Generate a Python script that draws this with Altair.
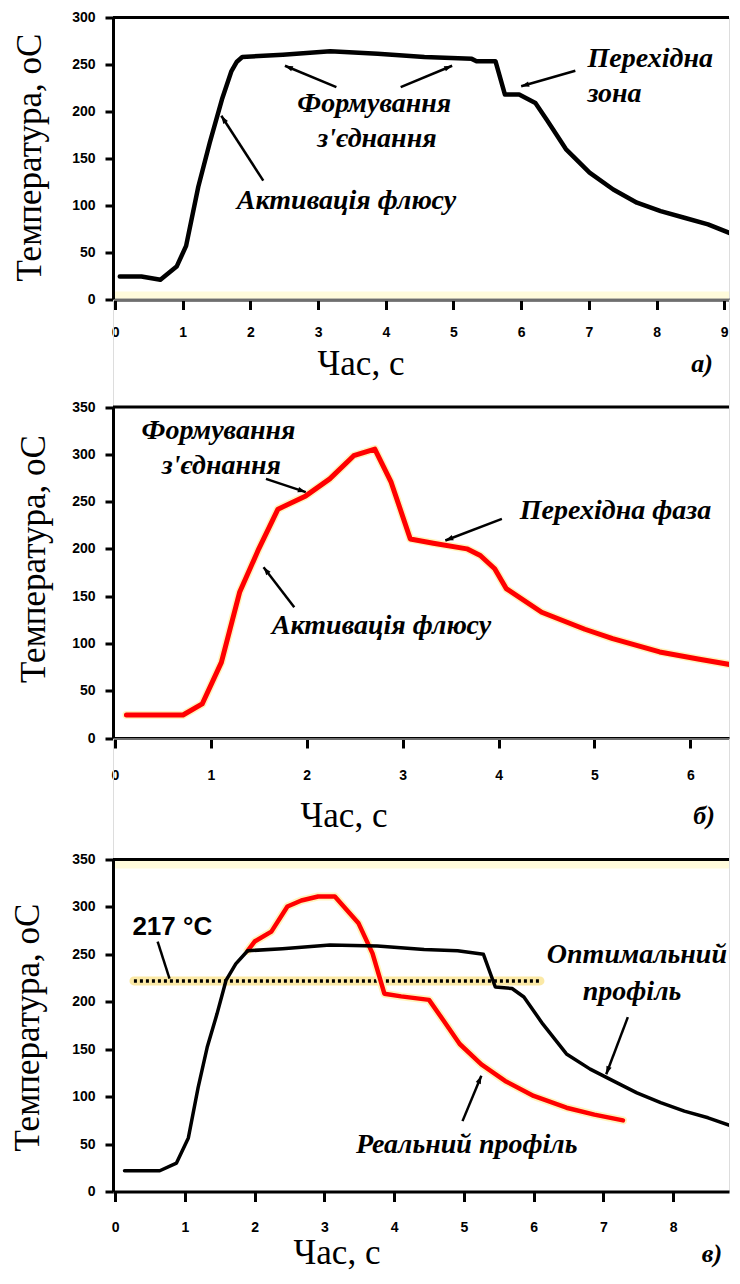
import math
import altair as alt
import pandas as pd

# ---------------- data ----------------
# panel a) optimal profile
a_time = [0.07, 0.39, 0.67, 0.91, 1.05, 1.23, 1.40, 1.58, 1.72, 1.80, 1.88, 2.48, 3.18, 3.88, 4.57, 5.27,
          5.34, 5.62, 5.76, 5.97, 6.21, 6.38, 6.66, 7.01, 7.36, 7.71, 8.06, 8.41, 8.76, 9.14]
a_temp = [24.5, 24.5, 21, 35, 57, 120, 167, 213, 243, 253, 258, 260.5, 264, 261.5, 258, 256,
          253.5, 253.5, 218, 218, 209, 191, 160, 135, 117, 103, 94, 87, 80, 69]

# panel b) real profile
b_time = [0.12, 0.71, 0.91, 1.11, 1.30, 1.50, 1.70, 1.99, 2.24, 2.49, 2.71, 2.88, 3.08, 3.32, 3.67,
          3.81, 3.96, 4.08, 4.45, 4.90, 5.19, 5.68, 6.08, 6.45]
b_temp = [24.3, 24.3, 36, 80, 154, 200, 242, 256, 274, 298.5, 305.5, 270.5, 210.5, 206, 200,
          193, 179, 158, 133, 115, 105, 91, 83.5, 77]

# panel c) optimal vs real
c_opt_time = [0.135, 0.64, 0.88, 1.05, 1.19, 1.32, 1.46, 1.59, 1.73, 1.90, 2.40, 3.08, 3.76, 4.43, 4.91,
              5.28, 5.45, 5.69, 5.86, 6.13, 6.47, 6.81, 7.14, 7.48, 7.82, 8.16, 8.50, 8.84]
c_opt_temp = [21.9, 21.9, 30, 56.5, 109.5, 152, 187, 222.5, 240, 253.8, 256, 259.8, 258.7, 255, 253.8,
              250, 215.6, 214, 205, 176.7, 145, 129, 116.6, 104, 93.6, 84.8, 77.7, 69]
c_real_time = [1.90, 2.00, 2.24, 2.47, 2.67, 2.91, 3.15, 3.49, 3.69, 3.86, 4.10, 4.50, 4.71, 4.94,
               5.25, 5.59, 6.00, 6.47, 6.87, 7.28]
c_real_temp = [253.8, 263.5, 274, 300.5, 306.8, 311, 311, 282.7, 251, 208.5, 205.7, 202, 180, 155.5,
               134, 116.6, 100.7, 88.3, 81, 75]
c_limit_temp = [222]
c_limit_time = [0.27, 6.09]

# tick values
a_yticks = [0, 50, 100, 150, 200, 250, 300]
bc_yticks = [0, 50, 100, 150, 200, 250, 300, 350]
a_xticks = list(range(0, 10))
b_xticks = list(range(0, 7))
c_xticks = list(range(0, 9))

# axis titles
x_title = "Час, с"
y_title = "Температура, оС"

# annotations (data units)
a_notes = ["Формування", "з'єднання", "Активація флюсу"]
a_notes_t = [3.83, 3.87, 3.42]
a_notes_T = [208, 171, 105]
a_side = ["Перехідна", "зона"]
a_side_t = [6.98, 6.98]
a_side_T = [256, 219]
a_arr_t1 = [3.27, 4.22, 6.80, 2.19]
a_arr_T1 = [226, 226, 243.4, 126.4]
a_arr_t2 = [2.51, 4.98, 6.00, 1.57]
a_arr_T2 = [248.7, 248.7, 226.8, 195.5]

b_notes = ["Формування", "з'єднання", "Перехідна фаза", "Активація флюсу"]
b_notes_t = [1.08, 1.11, 5.22, 2.78]
b_notes_T = [325, 288, 240.5, 118.8]
b_arr_t1 = [1.575, 4.035, 1.87]
b_arr_T1 = [274, 231.7, 138.3]
b_arr_t2 = [1.99, 3.445, 1.55]
b_arr_T2 = [260, 208.8, 180.6]

c_notes = ["Оптимальний", "профіль", "Реальний профіль"]
c_notes_t = [7.48, 7.41, 5.04]
c_notes_T = [249.2, 210.3, 49.4]
c_limit_label = ["217 °C"]
c_limit_label_t = [0.82]
c_limit_label_T = [278.5]
c_arr_t1 = [7.35, 4.98]
c_arr_T1 = [183.8, 74.2]
c_arr_t2 = [7.04, 5.25]
c_arr_T2 = [123.6, 122]
c_ptr_t1 = [0.61]
c_ptr_T1 = [263.3]
c_ptr_t2 = [0.78]
c_ptr_T2 = [224.4]

# ---------------- styling ----------------
W = 616
SERIF = "Liberation Serif"
SANS = "Liberation Sans"
ARROW = "M0,0L-0.45,1.3L0.45,1.3Z"
NOTE_SIZE = 28


def scales(xdom, ydom, top, h):
    xs = alt.Scale(domain=xdom, nice=False, zero=False)
    ys = alt.Scale(domain=ydom, nice=False, zero=False, range=[top + h, top])
    return xs, ys


def x_axis(vals, pad):
    return alt.Axis(values=vals, format="d", title="",
                    labelFont=SANS, labelFontSize=14, labelFontWeight="bold", labelColor="black",
                    labelPadding=pad, labelFlush=False, labelOverlap=False,
                    domainColor="black", domainWidth=3, tickColor="black", tickWidth=3,
                    tickSize=10, grid=False)


def y_axis(vals):
    return alt.Axis(values=vals, format="d", title="",
                    labelFont=SANS, labelFontSize=14, labelFontWeight="bold", labelColor="black",
                    labelPadding=10, labelFlush=False, labelOverlap=False,
                    domainColor="black", domainWidth=3, tickColor="black", tickWidth=3,
                    tickSize=8, grid=False)


def line_layer(times, temps, xs, ys, color, width, xax=None, yax=None, dash=None):
    df = pd.DataFrame({"time": times, "temp": temps})
    kw = dict(color=color, strokeWidth=width, strokeJoin="round", strokeCap="round", clip=True)
    if dash is not None:
        kw["strokeDash"] = dash
        kw["strokeCap"] = "butt"
    xe = alt.X("time:Q", scale=xs) if xax is None else alt.X("time:Q", scale=xs, axis=xax)
    ye = alt.Y("temp:Q", scale=ys) if yax is None else alt.Y("temp:Q", scale=ys, axis=yax)
    return alt.Chart(df).mark_line(**kw).encode(x=xe, y=ye)


def text_layer(labels, times, temps, xs, ys, align="center", font=SERIF, size=NOTE_SIZE,
               style="italic", weight="bold"):
    df = pd.DataFrame({"label": labels, "time": times, "temp": temps})
    return alt.Chart(df).mark_text(align=align, baseline="middle", font=font, fontSize=size,
                                   fontStyle=style, fontWeight=weight, color="black").encode(
        x=alt.X("time:Q", scale=xs), y=alt.Y("temp:Q", scale=ys), text="label:N")


def arrow_layers(t1, T1, t2, T2, xs, ys, kx, ky, heads=True):
    df = pd.DataFrame({"t1": t1, "T1": T1, "t2": t2, "T2": T2})
    df["ang"] = [math.degrees(math.atan2((b - a) * kx, (d - c) * ky)) % 360
                 for a, c, b, d in zip(t1, T1, t2, T2)]
    rule = alt.Chart(df).mark_rule(color="black", strokeWidth=2.5).encode(
        x=alt.X("t1:Q", scale=xs), y=alt.Y("T1:Q", scale=ys), x2="t2:Q", y2="T2:Q")
    out = [rule]
    if heads:
        head = alt.Chart(df).mark_point(shape=ARROW, filled=True, size=150, color="black",
                                        opacity=1, strokeWidth=0).encode(
            x=alt.X("t2:Q", scale=xs), y=alt.Y("T2:Q", scale=ys),
            angle=alt.Angle("ang:Q", scale=None))
        out.append(head)
    return out


def frame_top(top):
    return alt.Chart(pd.DataFrame({"k": [0]})).mark_rule(color="black", strokeWidth=3).encode(
        x=alt.value(0), x2=alt.value(W), y=alt.value(top))


def band(y1, y2):
    return alt.Chart(pd.DataFrame({"k": [0]})).mark_rect(color="#fffbdc").encode(
        x=alt.value(2), x2=alt.value(W), y=alt.value(y1), y2=alt.value(y2))


def fixed_text(text, px, py, size, style="normal", weight="normal", angle=0,
               baseline="middle"):
    kw = dict(align="center", baseline=baseline, font=SERIF, fontSize=size, fontStyle=style,
              fontWeight=weight, color="black")
    if angle:
        kw["angle"] = angle
    return alt.Chart(pd.DataFrame({"label": [text]})).mark_text(**kw).encode(
        x=alt.value(px), y=alt.value(py), text="label:N")


def titles(xt_x, xt_y, yt_x, yt_y):
    return [fixed_text(x_title, xt_x, xt_y, 35, baseline="alphabetic"),
            fixed_text(y_title, yt_x, yt_y, 35, angle=270)]


def panel_label(text, px, py):
    return fixed_text(text, px, py, 26, style="italic", weight="bold")


# ---------------- panel a ----------------
A_TOP, A_H = 0, 282
a_xdom, a_ydom = [-0.03, 9.07], [0, 300]
axs, ays = scales(a_xdom, a_ydom, A_TOP, A_H)
akx, aky = W / (a_xdom[1] - a_xdom[0]), A_H / (a_ydom[1] - a_ydom[0])
panel_a = alt.layer(
    band(A_TOP + A_H - 8, A_TOP + A_H - 1),
    line_layer(a_time, a_temp, axs, ays, "black", 4.5,
               xax=x_axis(a_xticks, 16), yax=y_axis(a_yticks)),
    text_layer(a_notes, a_notes_t, a_notes_T, axs, ays),
    text_layer(a_side, a_side_t, a_side_T, axs, ays, align="left"),
    *arrow_layers(a_arr_t1, a_arr_T1, a_arr_t2, a_arr_T2, axs, ays, akx, aky),
    frame_top(A_TOP),
    *titles(248, A_TOP + A_H + 75.5, -83, A_TOP + 140),
    panel_label("а)", 589, A_TOP + 346.5),
).properties(width=W, height=A_TOP + A_H)

# ---------------- panel b ----------------
B_TOP, B_H = 107.5, 331
b_xdom, b_ydom = [-0.02, 6.403], [0, 350]
bxs, bys = scales(b_xdom, b_ydom, B_TOP, B_H)
bkx, bky = W / (b_xdom[1] - b_xdom[0]), B_H / (b_ydom[1] - b_ydom[0])
panel_b = alt.layer(
    line_layer(b_time, b_temp, bxs, bys, "#fff4bd", 8,
               xax=x_axis(b_xticks, 20), yax=y_axis(bc_yticks)),
    line_layer(b_time, b_temp, bxs, bys, "#ff0000", 5),
    text_layer(b_notes, b_notes_t, b_notes_T, bxs, bys),
    *arrow_layers(b_arr_t1, b_arr_T1, b_arr_t2, b_arr_T2, bxs, bys, bkx, bky),
    frame_top(B_TOP),
    *titles(231, B_TOP + B_H + 89, -79, B_TOP + 152),
    panel_label("б)", 591, B_TOP + 409),
).properties(width=W, height=B_TOP + B_H)

# ---------------- panel c ----------------
C_TOP, C_H = 121, 332
c_xdom, c_ydom = [-0.03, 8.80], [0, 350]
cxs, cys = scales(c_xdom, c_ydom, C_TOP, C_H)
ckx, cky = W / (c_xdom[1] - c_xdom[0]), C_H / (c_ydom[1] - c_ydom[0])
limit_T = c_limit_temp * len(c_limit_time)
panel_c = alt.layer(
    band(C_TOP + 1.5, C_TOP + 9),
    line_layer(c_limit_time, limit_T, cxs, cys, "#fbe9a6", 9,
               xax=x_axis(c_xticks, 19), yax=y_axis(bc_yticks)),
    line_layer(c_limit_time, limit_T, cxs, cys, "black", 3.5, dash=[3, 3]),
    line_layer(c_real_time, c_real_temp, cxs, cys, "#fff4bd", 8),
    line_layer(c_real_time, c_real_temp, cxs, cys, "#ff0000", 4.5),
    line_layer(c_opt_time, c_opt_temp, cxs, cys, "black", 3.5),
    text_layer(c_notes, c_notes_t, c_notes_T, cxs, cys),
    text_layer(c_limit_label, c_limit_label_t, c_limit_label_T, cxs, cys, font=SANS, size=26,
               style="normal"),
    *arrow_layers(c_arr_t1, c_arr_T1, c_arr_t2, c_arr_T2, cxs, cys, ckx, cky),
    *arrow_layers(c_ptr_t1, c_ptr_T1, c_ptr_t2, c_ptr_T2, cxs, cys, ckx, cky, heads=False),
    frame_top(C_TOP),
    *titles(224, C_TOP + C_H + 72, -85, C_TOP + 168),
    panel_label("в)", 599, C_TOP + C_H + 62),
).properties(width=W, height=C_TOP + C_H)

chart = alt.vconcat(panel_a, panel_b, panel_c, spacing=0, bounds="flush").properties(
    padding={"left": 2, "top": 1.5, "right": 0, "bottom": 0}
).configure_view(stroke=None).configure(background="white")

chart.save("out.html", embed_options={"renderer": "svg", "actions": False})
